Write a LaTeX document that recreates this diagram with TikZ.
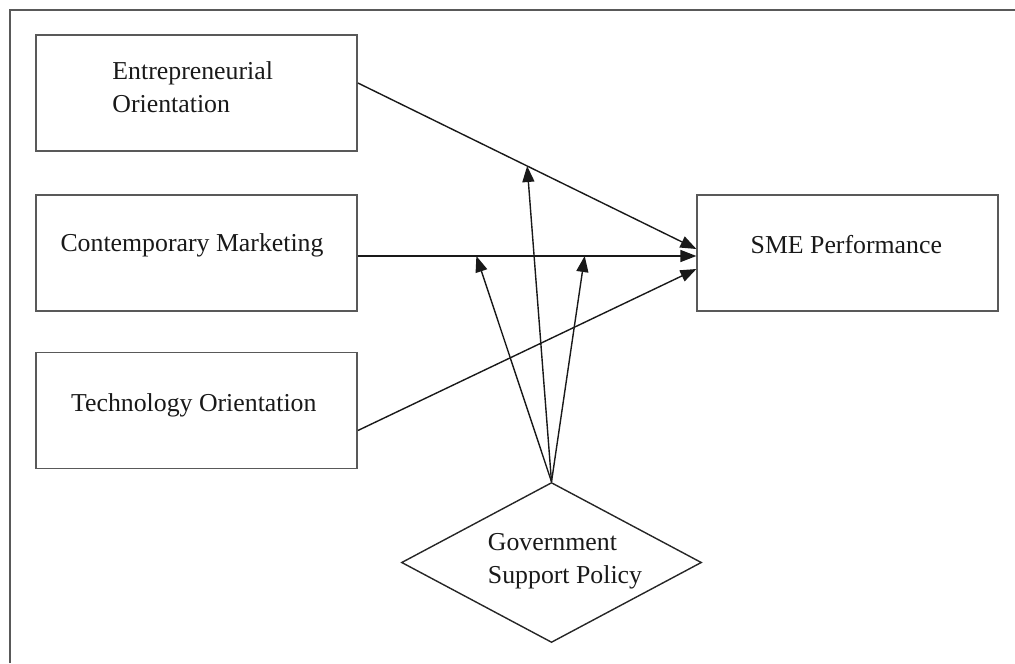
\documentclass[tikz,border=0pt]{standalone}
\usepackage{fontspec}
\setmainfont{Liberation Serif}
\usetikzlibrary{arrows.meta,shapes.geometric,calc}
\begin{document}
\begin{tikzpicture}[x=0.5pt,y=-0.5pt,
  frameline/.style={draw=black!65,line width=1pt},
  boxnode/.style={draw=black!65,line width=0.9pt,rectangle,inner sep=0pt,
    minimum width=160.5pt,minimum height=58pt},
  govshape/.style={draw=black!85,line width=0.7pt,diamond,inner sep=0pt,
    minimum width=150pt,minimum height=80pt},
  txt/.style={inner sep=0pt,align=left,text=black!90,
    font=\fontsize{12.9pt}{16.5pt}\selectfont},
  conn/.style={draw=black!90,line width=0.7pt,
    -{Triangle[length=8pt,width=6pt]}}]
\useasboundingbox (0,0) rectangle (1015,663);

% open frame around the model
\draw[frameline] (10,663) -- (10,10) -- (1015,10);

% construct boxes
\node[boxnode] (eo)  at (196.5,93)  {};
\node[boxnode] (cm)  at (196.5,253) {};
\node[boxnode] (to)  at (196.5,410.5) {};
\node[boxnode,minimum width=150.5pt] (sme) at (847.8,253) {};
\node[govshape] (gov) at (551.5,562.5) {};

% labels
\node[txt] (eotext)  at (192.7,87) {Entrepreneurial\\Orientation};
\node[txt,anchor=base] (cmtext)  at (192,251.7) {Contemporary Marketing};
\node[txt,anchor=base] (totext)  at (193.8,411.7) {Technology Orientation};
\node[txt,anchor=base] (smetext) at (846.3,253.3) {SME Performance};
\node[txt] (govtext) at (565,561) {Government\\Support Policy};

% direct effects
\draw[conn] ([yshift=5pt]eo.east) -- coordinate[pos=0.5] (m1) ([yshift=2pt]sme.west);
\draw[conn] ([yshift=-1.5pt]cm.east) -- coordinate[pos=0.35] (m2) coordinate[pos=0.67] (m3) ([yshift=-1.5pt]sme.west);
\draw[conn] ([yshift=-10pt]to.east) -- ([yshift=-8pt]sme.west);

% moderating effects
\draw[conn] (gov.north) -- (m1);
\draw[conn] (gov.north) -- (m2);
\draw[conn] (gov.north) -- (m3);
\end{tikzpicture}
\end{document}
